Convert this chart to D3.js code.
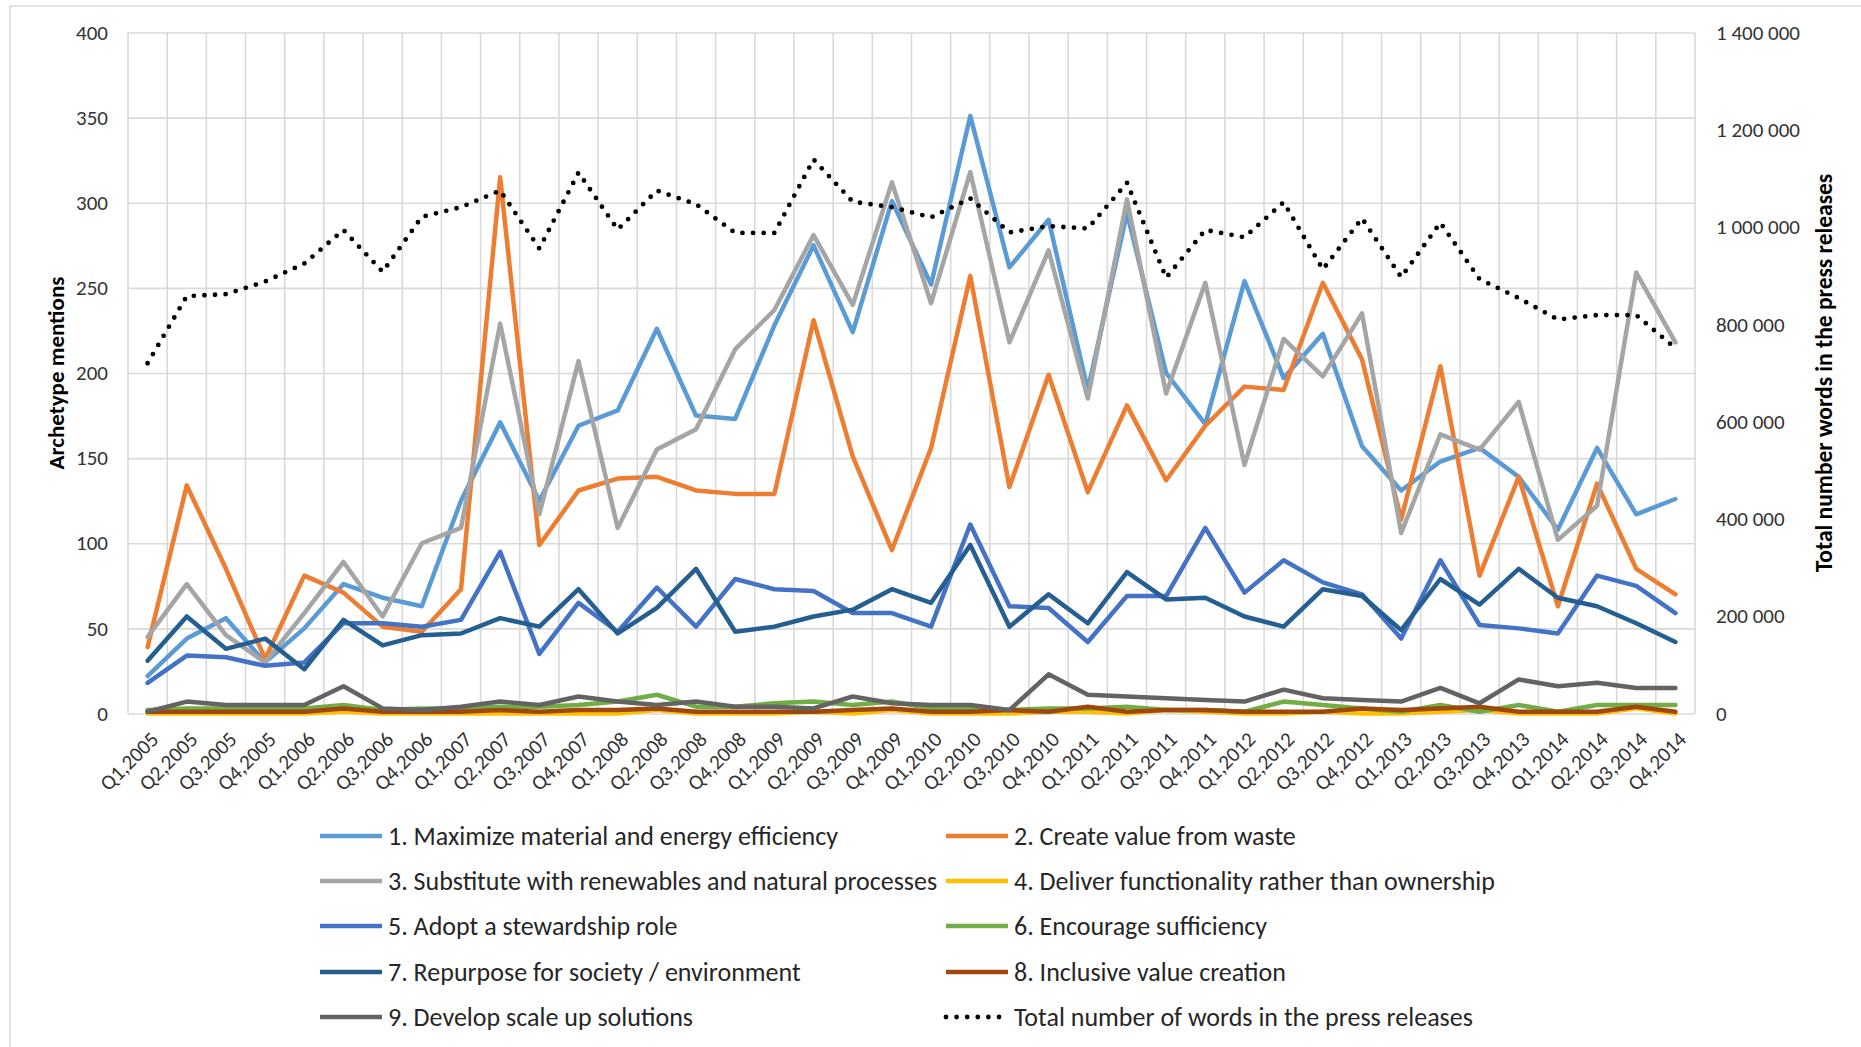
<!DOCTYPE html>
<html><head><meta charset="utf-8">
<script src="https://cdn.jsdelivr.net/npm/d3@7"></script>
<style>
html,body{margin:0;padding:0;background:#fff;}
svg{display:block;}
text{font-family: Carlito, Calibri, Lato, sans-serif;}
</style></head><body>
<svg id="chart" width="1861" height="1047"></svg>
<script>
const quarters = ["Q1,2005","Q2,2005","Q3,2005","Q4,2005","Q1,2006","Q2,2006","Q3,2006","Q4,2006",
  "Q1,2007","Q2,2007","Q3,2007","Q4,2007","Q1,2008","Q2,2008","Q3,2008","Q4,2008",
  "Q1,2009","Q2,2009","Q3,2009","Q4,2009","Q1,2010","Q2,2010","Q3,2010","Q4,2010",
  "Q1,2011","Q2,2011","Q3,2011","Q4,2011","Q1,2012","Q2,2012","Q3,2012","Q4,2012",
  "Q1,2013","Q2,2013","Q3,2013","Q4,2013","Q1,2014","Q2,2014","Q3,2014","Q4,2014"];

const seriesNames = ["1. Maximize material and energy efficiency","2. Create value from waste",
  "3. Substitute with renewables and natural processes","4. Deliver functionality rather than ownership",
  "5. Adopt a stewardship role","6. Encourage sufficiency","7. Repurpose for society / environment",
  "8. Inclusive value creation","9. Develop scale up solutions"];
const totalName = "Total number of words in the press releases";
const seriesColors = ["#5B9BD5","#ED7D31","#A5A5A5","#FFC000","#4472C4","#70AD47","#255E91","#9E480E","#636363"];

const maximizeEfficiency = [22,44,56,30,50,76,68,63,125,171,125,169,178,226,175,173,228,275,224,301,252,351,262,290,190,294,200,170,254,197,223,157,131,148,156,139,108,156,117,126];
const valueFromWaste = [39,134,85,32,81,71,51,48,73,315,99,131,138,139,131,129,129,231,151,96,156,257,133,199,130,181,137,169,192,190,253,208,114,204,81,139,63,135,85,70];
const substituteRenewables = [45,76,46,30,59,89,57,100,109,229,117,207,109,155,167,214,237,281,240,312,241,318,218,272,185,302,188,253,146,220,198,235,106,164,155,183,102,122,259,218];
const deliverFunctionality = [0,0,0,0,0,1,0,0,0,0,0,0,0,2,0,0,0,1,0,2,0,0,0,1,1,0,2,1,0,0,1,0,0,1,2,0,0,0,3,0];
const stewardshipRole = [18,34,33,28,30,53,53,51,55,95,35,65,48,74,51,79,73,72,59,59,51,111,63,62,42,69,69,109,71,90,77,70,44,90,52,50,47,81,75,59];
const encourageSufficiency = [2,3,3,3,3,5,2,3,3,4,4,5,7,11,4,4,6,7,5,7,3,3,2,3,3,4,2,2,1,7,5,3,1,5,1,5,1,5,5,5];
const repurposeSociety = [31,57,38,44,26,55,40,46,47,56,51,73,47,62,85,48,51,57,61,73,65,99,51,70,53,83,67,68,57,51,73,69,49,79,64,85,68,63,53,42];
const inclusiveValue = [1,1,1,1,1,3,1,1,1,2,1,2,2,3,1,1,1,1,2,3,1,1,2,1,4,1,2,2,1,1,1,3,2,3,4,1,1,1,4,1];
const scaleUpSolutions = [1,7,5,5,5,16,3,2,4,7,5,10,7,5,7,4,4,3,10,6,5,5,2,23,11,10,9,8,7,14,9,8,7,15,6,20,16,18,15,15];
const totalWords = [720000,858000,862000,888000,925000,994000,908000,1021000,1041000,1075000,956000,1112000,995000,1075000,1047000,988000,988000,1139000,1052000,1041000,1020000,1059000,989000,1002000,997000,1091000,896000,994000,979000,1051000,913000,1018000,897000,1009000,893000,854000,810000,819000,819000,751000];

const leftTicks = [0,50,100,150,200,250,300,350,400];
const rightTicks = [0,200000,400000,600000,800000,1000000,1200000,1400000];
const leftTitle = "Archetype mentions";
const rightTitle = "Total number words in the press releases";

const allSeries = [maximizeEfficiency,valueFromWaste,substituteRenewables,deliverFunctionality,
  stewardshipRole,encourageSufficiency,repurposeSociety,inclusiveValue,scaleUpSolutions];

const svg = d3.select("#chart");
const W = 1861, H = 1047;
const m = {left:128, right:1695, top:32.5, bottom:713.5};
const gridColor = "#D9D9D9";
const tickFont = "21px";

// chart border
svg.append("rect").attr("x",10).attr("y",6).attr("width",W+20).attr("height",H+20)
  .attr("fill","none").attr("stroke",gridColor).attr("stroke-width",1.5);

const x = d3.scaleBand().domain(quarters).range([m.left,m.right]).padding(0);
const cx = q => x(q) + x.bandwidth()/2;
const y = d3.scaleLinear().domain([0,400]).range([m.bottom,m.top]);
const yR = d3.scaleLinear().domain([0,1400000]).range([m.bottom,m.top]);

// vertical gridlines
const vEdges = quarters.map(q => x(q)).concat([x.range()[1]]);
svg.append("g").selectAll("line").data(vEdges).join("line")
  .attr("x1",d=>d).attr("x2",d=>d).attr("y1",m.top).attr("y2",m.bottom)
  .attr("stroke",gridColor).attr("stroke-width",1.6);

// left axis with horizontal gridlines
const gL = svg.append("g").attr("transform",`translate(${m.left},0)`)
  .call(d3.axisLeft(y).tickValues(leftTicks).tickSize(-(m.right-m.left)).tickPadding(20).tickFormat(d3.format("d")));
gL.select(".domain").remove();
gL.selectAll(".tick line").attr("stroke",gridColor).attr("stroke-width",1.6);
gL.selectAll(".tick text").attr("fill","#333").style("font-size",tickFont);

// right axis
const sp = d3.formatLocale({decimal:",", thousands:"\u00a0", grouping:[3], currency:["",""]});
const gR = svg.append("g").attr("transform",`translate(${m.right},0)`)
  .call(d3.axisRight(yR).tickValues(rightTicks).tickSize(0).tickPadding(21).tickFormat(sp.format(",d")));
gR.select(".domain").remove();
gR.selectAll(".tick text").attr("fill","#333").style("font-size",tickFont);

// x axis labels
const gX = svg.append("g").attr("transform",`translate(0,${m.bottom})`)
  .call(d3.axisBottom(x).tickSize(0));
gX.select(".domain").remove();
gX.selectAll(".tick text")
  .attr("fill","#333").style("font-size",tickFont)
  .attr("text-anchor","end").attr("dy","0.35em")
  .attr("transform","translate(7,22) rotate(-45)").attr("y",0).attr("x",0);

// axis titles
svg.append("text").attr("transform",`translate(56,${(m.top+m.bottom)/2}) rotate(-90)`)
  .attr("text-anchor","middle").attr("dominant-baseline","central")
  .style("font-size","23px").style("font-weight","bold").attr("fill","#000").text(leftTitle);
svg.append("text").attr("transform",`translate(1824,${(m.top+m.bottom)/2}) rotate(-90)`)
  .attr("text-anchor","middle").attr("dominant-baseline","central")
  .style("font-size","23.5px").style("font-weight","bold").attr("fill","#000").text(rightTitle);

// series lines
const line = d3.line().x((d,i)=>cx(quarters[i])).y(d=>y(d));
const plot = svg.append("g");
allSeries.forEach((s,k)=>{
  plot.append("path").datum(s).attr("d",line).attr("fill","none")
    .attr("stroke",seriesColors[k]).attr("stroke-width",4.5)
    .attr("stroke-linejoin","round").attr("stroke-linecap","round");
});
const lineR = d3.line().x((d,i)=>cx(quarters[i])).y(d=>yR(d));
plot.append("path").datum(totalWords).attr("d",lineR).attr("fill","none")
  .attr("stroke","#000").attr("stroke-width",4.8).attr("stroke-dasharray","0 10.6")
  .attr("stroke-linecap","round");

// legend
const legendItems = seriesNames.map((n,k)=>({name:n,color:seriesColors[k],dotted:false}))
  .concat([{name:totalName,color:"#000",dotted:true}]);
const colX = [320, 946];
const rowY = [836, 881, 926, 972, 1017];
const lg = svg.append("g");
legendItems.forEach((it,k)=>{
  const lx = colX[k%2], ly = rowY[Math.floor(k/2)];
  const g = lg.append("g").attr("transform",`translate(${lx},${ly})`);
  g.append("line").attr("x1",0).attr("x2",62).attr("y1",0).attr("y2",0)
    .attr("stroke",it.color).attr("stroke-width",it.dotted?4.8:4.5)
    .attr("stroke-dasharray",it.dotted?"0 10.6":null)
    .attr("stroke-linecap",it.dotted?"round":"butt");
  g.append("text").attr("x",68).attr("y",0).attr("dominant-baseline","central")
    .style("font-size","26px").attr("fill","#262626").text(it.name);
});
</script>
</body></html>
